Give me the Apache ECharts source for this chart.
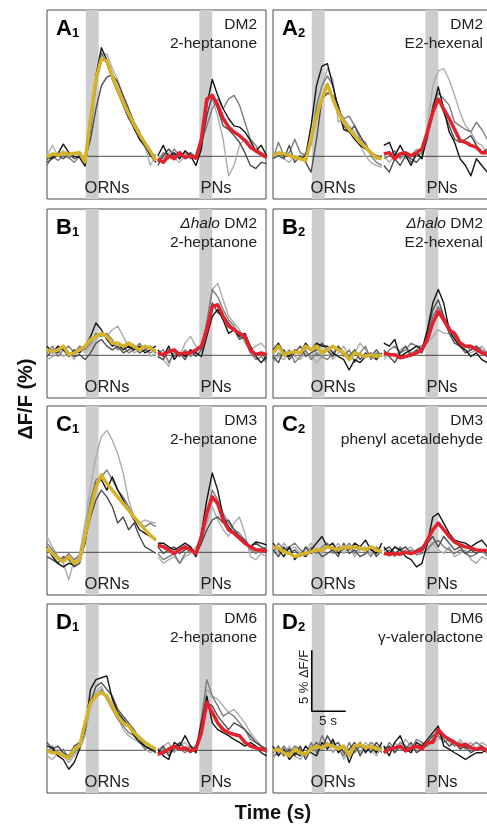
<!DOCTYPE html>
<html>
<head>
<meta charset="utf-8">
<script src="https://cdn.jsdelivr.net/npm/echarts@6/dist/echarts.min.js"></script>
<style>
  html, body { margin: 0; padding: 0; background: #fff; overflow: hidden; }
  /* right column panels run past the 487px frame, as in the original crop */
  #chart { width: 500px; height: 824px; }
</style>
</head>
<body>
<div id="chart"></div>
<script>
// sample times (s) for each 16 s recording window
const TIME = [0, 0.8, 1.6, 2.4, 3.2, 4, 4.8, 5.6, 6.4, 7.2, 8, 8.8, 9.6, 10.4, 11.2, 12, 12.8, 13.6, 14.4, 15.2, 16]
const PN_START = 16.3          // PN window starts after the ORN window
const ODOR_ON = [5.7, 22.4]    // odor pulses (s), 1.9 s long
const ODOR_LEN = 1.9
const SCALE_T = 5              // scale bar: 5 s
const SCALE_DF = 5             // scale bar: 5 % dF/F

// dF/F (%), mean traces and individual flies (black -> light gray)
const A1_ORN_MEAN = [-0.1,0.2,0.1,0.3,0.15,0.25,0.3,-0.45,3.1,6.3,8.0,7.8,6.6,5.5,4.4,3.5,2.6,1.8,1.1,0.4,-0.35]
const A1_ORN_TRACES = [
  [-0.2,-0.1,0.2,1.0,0.3,0.0,-0.1,-0.8,2.5,6.6,8.9,7.9,6.6,5.5,4.2,3.2,2.3,1.4,0.9,0.1,-0.5],
  [-0.5,-0.2,0.05,-0.2,0.2,-0.2,0.05,-0.2,1.4,3.9,5.8,6.5,6.7,6.1,5.0,3.9,2.8,2.0,0.9,0.05,-0.2],
  [-0.75,0.05,-0.35,0.05,-0.1,-0.5,0.05,-0.6,2.0,6.1,8.5,7.6,6.3,5.2,4.2,3.1,2.5,1.4,0.75,0.3,0.05],
  [0.05,0.9,0.05,0.45,-0.2,0.3,0.05,0.05,2.0,5.8,8.3,8.4,7.2,6.3,4.7,3.9,2.2,1.7,0.9,-0.75,0.05]
]
const A1_PN_MEAN = [-0.2,-0.5,0.05,-0.2,0.3,-0.1,0.05,-0.15,1.4,4.7,5.0,4.2,3.1,2.4,2.0,1.7,1.3,0.75,0.45,0.2,-0.1]
const A1_PN_TRACES = [
  [0.05,0.9,-0.1,0.3,-0.2,0.45,0.05,-0.75,0.6,4.2,6.3,5.0,3.9,3.1,2.5,2.4,2.0,1.3,0.45,0.9,0.05],
  [-0.75,0.05,0.6,0.05,0.3,-0.2,0.3,-0.1,0.9,3.3,5.0,3.9,2.5,2.2,1.7,1.15,0.3,-0.75,-1.0,-0.5,-0.6],
  [-0.5,0.3,-0.2,0.6,0.05,0.3,-0.2,0.05,1.15,2.5,3.9,4.7,3.9,4.7,5.0,4.2,2.8,1.4,0.9,0.05,-0.2],
  [0.05,-0.2,0.3,-0.1,-0.5,0.05,0.3,-0.2,0.9,3.6,4.7,3.3,1.4,-1.6,-0.75,0.9,1.4,1.15,0.3,0.05,0.2]
]
const A2_ORN_MEAN = [0.05,0.3,0.2,0.05,-0.1,-0.2,-0.35,1.4,3.3,4.7,5.9,4.7,3.6,2.8,2.2,1.7,1.15,0.75,0.3,-0.1,-0.2]
const A2_ORN_TRACES = [
  [0.05,0.3,0.05,0.05,-0.1,-0.2,0.05,2.5,5.8,7.4,7.6,5.8,3.9,2.2,2.0,1.4,0.9,0.6,0.3,0.05,-0.1],
  [-0.2,0.05,-0.2,0.9,-0.5,0.05,-0.5,-1.3,1.4,4.7,5.2,5.0,4.2,2.5,2.0,2.5,1.7,0.9,0.3,-0.2,0.05],
  [-0.2,1.15,0.05,0.3,1.4,0.3,0.05,1.15,4.2,5.8,6.6,5.8,3.9,3.1,3.3,2.5,1.4,1.15,0.05,-0.5,-0.75],
  [0.05,0.3,-0.2,-0.5,0.05,-0.2,0.3,0.9,3.9,5.8,7.2,6.3,2.8,3.1,2.5,2.0,0.9,0.05,-0.5,-0.75,-0.9]
]
const A2_PN_MEAN = [0.2,0.3,-0.2,0.2,0.3,0.05,0.3,0.6,2.0,3.6,4.7,3.9,3.1,2.2,1.3,1.15,0.9,0.75,0.3,0.3,0.2]
const A2_PN_TRACES = [
  [0.9,1.15,0.05,0.9,0.05,-0.75,0.3,-0.2,1.7,3.9,5.7,3.9,2.0,1.15,-0.2,-0.75,-1.6,-0.2,-0.75,-1.3,-0.75],
  [-0.75,-1.3,-0.2,-0.75,0.05,-0.2,-0.5,0.05,2.0,3.9,4.7,3.6,2.5,1.4,1.15,1.4,1.7,0.9,0.3,0.6,0.3],
  [-0.2,0.05,0.45,-0.2,0.3,-0.5,0.05,0.3,1.4,4.2,5.2,4.7,4.2,2.8,2.5,2.2,2.0,2.8,2.2,1.4,0.9],
  [0.05,-0.5,0.05,0.3,-0.2,0.05,0.6,0.3,2.5,5.8,7.0,7.2,6.3,5.0,3.6,2.5,2.0,1.15,0.9,0.3,0.05]
]
const B1_ORN_MEAN = [0.45,0.3,0.45,0.75,0.05,0.2,0.45,0.75,1.3,1.55,1.8,1.55,1.0,1.0,0.75,1.0,0.75,0.45,0.75,0.6,0.3]
const B1_ORN_TRACES = [
  [0.75,0.2,0.75,0.45,-0.1,0.45,0.2,0.75,1.55,2.65,2.1,1.3,0.75,1.0,0.45,0.75,0.45,0.75,0.2,0.45,0.75],
  [-0.1,0.45,0.2,0.75,0.2,-0.1,0.05,-0.35,0.2,1.0,1.3,0.75,0.45,0.75,0.2,0.45,0.75,0.2,0.45,0.75,0.2],
  [0.2,0.75,-0.1,0.45,0.75,0.2,0.75,0.45,1.0,1.8,1.55,1.8,1.3,0.45,0.75,0.2,0.45,1.0,0.45,0.2,0.45],
  [-0.35,-0.1,0.45,-0.1,0.2,-0.35,0.75,0.2,0.75,1.3,1.8,1.55,2.1,2.4,1.55,0.75,0.2,0.45,0.75,-0.1,0.2]
]
const B1_PN_MEAN = [0.2,0.05,0.3,0.45,0.05,0.2,0.2,0.45,0.75,2.1,4.0,4.15,3.2,2.4,2.1,1.8,1.55,0.45,0.05,0.2,0.05]
const B1_PN_TRACES = [
  [0.45,-0.1,0.75,-0.35,0.2,-0.1,0.45,0.2,-0.1,1.55,3.2,3.75,2.9,1.8,2.1,1.55,1.8,0.75,-0.1,-0.6,-0.1],
  [-0.1,-0.35,0.45,-0.1,0.2,-0.35,0.45,-0.1,0.45,2.1,4.3,3.5,3.2,2.65,2.1,1.3,1.55,0.45,-0.1,0.2,-0.35],
  [0.2,0.45,-0.6,0.2,-0.1,0.45,-0.1,0.2,0.75,2.65,5.4,4.8,3.75,2.9,2.4,1.55,1.3,0.2,-0.35,-0.1,-0.6],
  [-0.1,-0.35,-0.9,0.45,-0.1,1.0,1.55,0.75,0.45,2.9,5.4,5.9,4.55,3.2,2.65,2.1,1.0,0.45,0.75,1.0,0.45]
]
const B2_ORN_MEAN = [0.2,0.75,0.05,0.2,0.3,0.2,0.75,0.45,0.75,0.2,0.45,0.75,0.45,0.2,-0.35,0.2,0.05,-0.1,0.05,-0.1,0.05]
const B2_ORN_TRACES = [
  [0.45,1.0,0.2,-0.1,0.45,0.2,1.0,0.45,1.0,0.75,0.75,0.2,-0.1,-0.35,-1.2,-0.35,-0.6,-0.1,0.2,-0.35,0.2],
  [-0.1,-0.6,0.45,-0.35,0.2,0.75,-0.1,0.2,0.45,1.0,0.45,-0.1,0.75,0.2,-0.1,0.45,-0.35,0.2,-0.1,0.45,-0.1],
  [-0.35,0.2,-0.1,0.45,-0.6,-0.1,0.45,-0.35,0.2,-0.1,-0.35,0.2,0.75,-0.1,0.45,-0.6,0.2,0.75,-0.35,0.2,-0.1],
  [-0.6,-0.1,-0.35,0.2,-0.1,-0.35,0.2,-0.1,-0.6,-0.1,0.45,-0.35,0.2,0.75,-0.1,0.2,1.0,0.45,-0.1,-0.35,0.2]
]
const B2_PN_MEAN = [0.2,0.05,0.05,-0.2,-0.1,0.05,0.2,0.45,1.3,2.65,3.6,2.9,2.1,1.8,1.0,0.75,0.75,0.45,0.2,0.05,-0.1]
const B2_PN_TRACES = [
  [1.0,0.75,1.3,-0.1,0.2,0.45,0.75,0.45,2.1,4.3,5.4,4.3,2.1,1.3,0.75,0.45,-0.1,0.2,-0.35,-0.6,-0.1],
  [0.45,-0.1,-0.6,0.2,0.75,-0.1,0.45,0.2,1.8,3.75,4.55,3.2,1.8,1.0,0.75,0.2,0.45,0.75,0.2,-0.1,0.45],
  [-0.1,0.45,0.75,0.2,0.45,1.0,0.75,0.75,1.3,3.2,4.0,3.2,2.4,1.55,1.0,0.75,0.45,0.75,0.45,0.2,-0.1],
  [-0.35,0.2,-0.1,0.45,0.75,0.2,0.45,0.75,1.0,1.55,2.1,1.8,1.8,1.4,0.75,0.45,0.2,0.45,0.75,0.2,0.45]
]
const C1_ORN_MEAN = [0.35,-0.1,-0.5,-0.75,-0.35,-0.9,-0.6,1.3,3.45,5.35,6.35,5.65,5.1,4.55,4.0,3.45,2.9,2.4,1.85,1.4,1.0]
const C1_ORN_TRACES = [
  [0.45,-0.35,-0.9,-1.2,-0.9,-1.05,-0.6,0.75,3.75,5.65,5.95,5.1,6.2,5.1,4.3,3.45,2.65,1.85,1.55,1.3,1.0],
  [-0.35,-0.6,-0.9,-0.35,-0.6,-1.2,-0.9,1.0,2.9,4.3,5.1,4.55,3.75,2.4,2.9,1.85,2.4,1.3,0.45,0.2,-0.1],
  [0.75,0.2,-0.35,-0.6,-0.1,-0.6,-0.35,1.55,4.3,5.95,6.2,6.75,5.95,5.1,4.55,3.75,2.9,2.4,2.1,2.4,2.1],
  [1.3,0.45,-0.35,-0.9,-2.25,-0.6,-0.1,2.4,5.4,7.85,9.5,10.0,9.2,8.1,6.5,4.3,2.9,2.4,2.65,2.5,2.4]
]
const C1_PN_MEAN = [0.6,0.45,0.2,-0.1,0.2,0.45,0.2,-0.1,1.3,3.2,4.55,4.0,2.65,1.85,1.55,1.15,0.75,0.45,0.2,0.2,0.05]
const C1_PN_TRACES = [
  [0.75,0.75,0.45,0.2,0.45,0.75,0.45,-0.35,1.55,4.3,6.5,5.1,2.9,2.1,1.55,1.3,0.75,0.45,0.85,0.75,0.6],
  [0.45,-0.1,0.2,0.45,-0.1,0.2,0.45,-0.1,0.75,1.85,2.65,2.9,2.4,2.65,1.85,1.3,1.0,0.45,0.75,0.45,0.2],
  [-0.1,-0.6,-0.35,-0.1,-0.9,-0.1,0.2,-0.35,0.75,3.2,5.1,4.3,3.2,2.4,1.85,1.55,1.0,0.2,-0.1,0.2,0.45],
  [-0.35,-0.9,-0.6,-0.35,-0.9,-0.35,-0.1,0.45,1.0,2.4,3.75,2.65,1.85,1.3,2.4,2.9,1.55,-0.35,-0.6,-0.1,-0.35]
]
const C2_ORN_MEAN = [0.45,0.35,0.05,-0.1,-0.35,-0.2,-0.1,0.05,0.2,0.2,0.45,0.35,0.2,0.45,0.35,0.45,0.35,0.2,0.45,0.2,0.05]
const C2_ORN_TRACES = [
  [0.75,0.2,-0.35,0.45,-0.6,-0.1,-0.35,0.2,0.75,1.3,0.45,0.75,-0.1,0.45,0.2,0.75,0.45,1.0,0.2,-0.1,0.75],
  [0.2,-0.35,0.45,-0.1,0.2,-0.35,0.45,-0.1,0.2,-0.35,-0.1,0.2,-0.35,0.75,-0.1,0.2,-0.35,-0.1,0.45,-0.35,0.2],
  [-0.1,0.75,0.2,0.45,0.75,0.2,-0.1,0.45,-0.1,0.45,0.75,-0.1,0.45,0.2,0.75,-0.1,0.45,0.2,-0.35,0.45,-0.1],
  [0.45,-0.1,0.75,0.2,0.45,-0.1,0.2,0.75,0.2,-0.1,0.45,0.2,0.75,-0.1,0.45,-0.35,0.2,0.45,-0.1,0.2,0.45]
]
const C2_PN_MEAN = [-0.1,-0.15,-0.1,-0.15,0.0,-0.1,0.05,0.2,1.0,1.85,2.4,1.85,1.3,0.85,0.6,0.45,0.35,0.2,0.15,0.15,0.05]
const C2_PN_TRACES = [
  [0.45,-0.1,0.45,0.2,-0.35,-0.6,-1.2,-0.9,0.75,2.9,3.2,2.4,1.55,1.0,0.85,0.75,0.45,0.75,1.0,0.45,0.2],
  [0.2,0.45,-0.1,0.2,0.45,-0.1,0.2,0.45,0.75,1.3,0.45,1.3,0.75,0.2,0.45,-0.1,0.2,-0.1,0.2,-0.1,0.05],
  [-0.2,0.2,-0.35,0.45,-0.1,0.2,-0.2,-0.1,0.2,0.75,1.0,0.45,0.2,-0.1,0.2,-0.1,-0.35,-0.1,0.2,-0.35,-0.1],
  [0.2,-0.35,0.45,-0.1,0.2,0.45,-0.1,0.2,0.45,0.75,0.2,-0.1,0.45,-0.35,-0.1,0.2,-0.6,-0.9,-0.35,-0.6,-0.35]
]
const D1_ORN_MEAN = [-0.05,-0.2,-0.2,-0.45,-0.6,0.1,0.35,2.25,3.9,4.45,4.75,4.45,3.65,2.8,2.25,2.0,1.45,1.05,0.65,0.35,0.1]
const D1_ORN_TRACES = [
  [0.35,0.2,-0.45,-0.75,-1.55,-1.0,0.1,1.7,5.0,5.8,5.95,6.1,4.2,3.1,2.55,2.0,1.2,0.65,0.35,0.1,-0.05],
  [0.65,0.1,0.35,-0.2,-0.45,0.35,0.65,2.0,3.9,5.25,5.55,5.0,4.45,3.35,2.8,2.25,1.7,0.9,0.35,0.1,-0.2],
  [-0.2,0.35,-0.45,0.1,-0.75,-0.2,0.35,1.7,4.2,4.45,5.0,4.2,3.35,2.55,2.0,1.45,1.2,0.9,0.1,0.35,-0.2],
  [-0.45,-0.75,-0.2,-0.45,-1.0,-0.45,0.1,1.2,3.65,4.75,5.25,4.2,3.65,2.8,1.7,1.2,0.9,0.65,0.1,-0.2,0.2]
]
const D1_PN_MEAN = [-0.3,-0.2,0.1,0.35,0.1,0.2,-0.05,0.1,1.45,3.9,3.1,2.25,1.7,1.45,1.3,1.2,0.65,0.35,0.2,0.1,-0.05]
const D1_PN_TRACES = [
  [0.1,-0.45,-0.75,0.65,0.35,1.2,0.35,-0.2,2.25,4.45,2.25,1.7,1.45,1.2,0.9,0.65,0.35,0.65,0.35,-0.2,-0.45],
  [-0.2,0.35,-0.45,0.1,0.65,0.1,-0.2,0.35,1.7,3.9,3.65,2.8,2.25,1.7,2.25,2.0,1.7,1.2,0.65,0.35,0.1],
  [-0.45,0.1,-0.2,0.35,0.1,-0.2,0.35,0.1,2.55,5.8,4.45,3.65,2.8,3.1,2.8,2.25,1.7,0.9,0.65,0.35,-0.2],
  [0.1,0.35,0.65,-0.2,0.35,0.65,0.1,0.35,2.0,5.0,4.45,4.2,3.65,3.1,3.35,2.8,2.25,1.45,0.9,0.35,0.1]
]
const D2_ORN_MEAN = [-0.05,0.1,-0.2,-0.45,0.1,-0.2,-0.3,0.1,0.35,0.2,0.5,0.35,0.1,0.35,-0.45,0.35,0.5,0.2,0.35,0.1,0.1]
const D2_ORN_TRACES = [
  [0.35,-0.45,0.1,-0.75,-0.2,-0.45,0.35,-0.2,-0.45,0.65,0.1,0.9,-0.2,0.35,-1.0,0.1,0.65,-0.2,0.35,-0.2,0.65],
  [-0.2,0.35,-0.45,0.1,-0.45,0.35,-0.75,0.1,0.65,0.1,1.2,0.35,0.65,-0.2,0.1,0.65,-0.45,0.35,-0.2,0.65,0.1],
  [-0.45,-0.2,0.35,-0.2,0.35,0.1,-0.45,0.65,-0.2,1.2,0.35,0.65,0.1,-0.45,0.65,-0.2,0.35,0.1,0.65,0.35,-0.2],
  [-0.75,0.1,-0.45,0.35,-0.45,-0.75,-0.2,0.35,-0.2,0.35,0.65,-0.2,0.35,-0.75,0.1,0.35,-0.2,0.65,0.1,-0.45,0.35]
]
const D2_PN_MEAN = [-0.2,0.1,0.2,0.35,-0.05,0.2,0.35,0.1,0.65,0.65,1.7,1.2,0.9,0.65,0.35,0.5,0.2,0.1,0.2,-0.05,-0.05]
const D2_PN_TRACES = [
  [0.35,-0.45,0.65,1.2,0.1,-0.2,0.65,0.35,0.9,1.45,2.0,0.35,0.1,-0.2,-0.45,-0.75,-0.45,-0.2,-0.2,0.1,-0.2],
  [0.1,0.35,-0.2,0.35,0.1,0.65,-0.2,0.1,0.65,1.2,1.45,0.9,0.35,0.65,0.1,0.35,-0.2,0.1,0.35,-0.2,0.1],
  [-0.2,0.65,0.1,0.65,0.35,0.1,0.9,0.65,0.35,0.9,1.2,0.65,0.9,0.35,0.65,0.1,0.35,0.65,0.35,0.1,0.35],
  [0.35,0.1,0.65,0.1,0.9,0.35,0.1,0.65,0.35,0.65,0.9,1.2,0.65,0.35,0.9,0.35,0.65,0.1,0.65,0.35,0.65]
]

const PANELS = [
  { letter: 'A', sub: '1', glom: 'DM2', odor: '2-heptanone', orn: [A1_ORN_MEAN, A1_ORN_TRACES], pn: [A1_PN_MEAN, A1_PN_TRACES] },
  { letter: 'A', sub: '2', glom: 'DM2', odor: 'E2-hexenal', orn: [A2_ORN_MEAN, A2_ORN_TRACES], pn: [A2_PN_MEAN, A2_PN_TRACES] },
  { letter: 'B', sub: '1', glom: '{i|Δhalo} DM2', odor: '2-heptanone', orn: [B1_ORN_MEAN, B1_ORN_TRACES], pn: [B1_PN_MEAN, B1_PN_TRACES] },
  { letter: 'B', sub: '2', glom: '{i|Δhalo} DM2', odor: 'E2-hexenal', orn: [B2_ORN_MEAN, B2_ORN_TRACES], pn: [B2_PN_MEAN, B2_PN_TRACES] },
  { letter: 'C', sub: '1', glom: 'DM3', odor: '2-heptanone', orn: [C1_ORN_MEAN, C1_ORN_TRACES], pn: [C1_PN_MEAN, C1_PN_TRACES] },
  { letter: 'C', sub: '2', glom: 'DM3', odor: 'phenyl acetaldehyde', orn: [C2_ORN_MEAN, C2_ORN_TRACES], pn: [C2_PN_MEAN, C2_PN_TRACES] },
  { letter: 'D', sub: '1', glom: 'DM6', odor: '2-heptanone', orn: [D1_ORN_MEAN, D1_ORN_TRACES], pn: [D1_PN_MEAN, D1_PN_TRACES] },
  { letter: 'D', sub: '2', glom: 'DM6', odor: 'γ-valerolactone', orn: [D2_ORN_MEAN, D2_ORN_TRACES], pn: [D2_PN_MEAN, D2_PN_TRACES] }
]

const FONT = "'Liberation Sans', Arial, Helvetica, sans-serif"
const COL_LEFT = [47, 273]
const ROW_TOP = [10, 209, 406, 604]
const PANEL_W = 219
const PANEL_H = 189
const X_MAX = 32.2
const Y_MIN = -3.5
const Y_MAX = 12
const TRACE_COLORS = ['#141414', '#4c4c4c', '#7c7c7c', '#acacac']
const ORN_COLOR = '#d4b32a'
const PN_COLOR = '#e3212c'

const chart = echarts.init(document.getElementById('chart'))

const grids = []
const xAxes = []
const yAxes = []
const series = []
const graphics = []

function traceSeries(gi, values, offset, color, width, z) {
  return {
    type: 'line',
    xAxisIndex: gi,
    yAxisIndex: gi,
    data: values.map((v, i) => [TIME[i] + offset, v]),
    symbol: 'none',
    silent: true,
    lineStyle: { color, width, join: 'round' },
    z
  }
}

PANELS.forEach((p, gi) => {
  const left = COL_LEFT[gi % 2]
  const top = ROW_TOP[Math.floor(gi / 2)]
  grids.push({ left, top, width: PANEL_W, height: PANEL_H, show: true, borderColor: '#4a4a4a', borderWidth: 1, backgroundColor: 'transparent' })
  xAxes.push({ gridIndex: gi, type: 'value', min: 0, max: X_MAX, show: false })
  yAxes.push({ gridIndex: gi, type: 'value', min: Y_MIN, max: Y_MAX, show: false })

  // zero line for both windows, with the odor bars behind it
  const tEnd = TIME[TIME.length - 1]
  series.push({
    type: 'line',
    xAxisIndex: gi,
    yAxisIndex: gi,
    data: [[TIME[0], 0], [tEnd, 0], ['-', '-'], [PN_START + TIME[0], 0], [PN_START + tEnd, 0]],
    symbol: 'none',
    silent: true,
    connectNulls: false,
    lineStyle: { color: '#222', width: 0.8 },
    z: 1,
    markArea: {
      silent: true,
      itemStyle: { color: '#cdcdcd' },
      data: ODOR_ON.map((t) => [{ xAxis: t }, { xAxis: t + ODOR_LEN }])
    }
  })

  ;[[p.orn, 0, ORN_COLOR], [p.pn, PN_START, PN_COLOR]].forEach(([[mean, traces], offset, color]) => {
    for (let k = traces.length - 1; k >= 0; k--) {
      series.push(traceSeries(gi, traces[k], offset, TRACE_COLORS[k], 1.4, 3 + (traces.length - k)))
    }
    series.push(traceSeries(gi, mean, offset, color, 3.5, 10))
  })

  graphics.push(
    {
      type: 'text', x: left + 9, y: top + 6, z: 20,
      style: {
        text: '{b|' + p.letter + '}{s|' + p.sub + '}',
        fill: '#000',
        rich: {
          b: { fontSize: 22, fontWeight: 'bold', fontFamily: FONT, fill: '#000', verticalAlign: 'bottom', lineHeight: 24 },
          s: { fontSize: 13, fontWeight: 'bold', fontFamily: FONT, fill: '#000', verticalAlign: 'bottom', lineHeight: 20 }
        }
      }
    },
    {
      type: 'text', x: left + 210, y: top + 15, z: 20,
      style: {
        text: p.glom, align: 'right', verticalAlign: 'middle', fontSize: 15.5, fontFamily: FONT, fill: '#222',
        rich: { i: { fontSize: 15.5, fontStyle: 'italic', fontFamily: FONT, fill: '#222' } }
      }
    },
    {
      type: 'text', x: left + 210, y: top + 34, z: 20,
      style: { text: p.odor, align: 'right', verticalAlign: 'middle', fontSize: 15.5, fontFamily: FONT, fill: '#222' }
    },
    {
      type: 'text', x: left + 60, y: top + 178, z: 20,
      style: { text: 'ORNs', align: 'center', verticalAlign: 'middle', fontSize: 16.5, fontFamily: FONT, fill: '#222' }
    },
    {
      type: 'text', x: left + 169, y: top + 178, z: 20,
      style: { text: 'PNs', align: 'center', verticalAlign: 'middle', fontSize: 16.5, fontFamily: FONT, fill: '#222' }
    }
  )
})

// scale bar inside D2
const SB_T = 5.7
const SB_Y = 3.2
series.push({
  type: 'line',
  xAxisIndex: 7,
  yAxisIndex: 7,
  data: [[SB_T, SB_Y + SCALE_DF], [SB_T, SB_Y], [SB_T + SCALE_T, SB_Y]],
  symbol: 'none',
  silent: true,
  lineStyle: { color: '#000', width: 1.6 },
  z: 15
})

graphics.push(
  {
    type: 'text', x: 304, y: 677, rotation: Math.PI / 2, z: 20,
    style: { text: '5 % ΔF/F', align: 'center', verticalAlign: 'middle', fontSize: 13, fontFamily: FONT, fill: '#222' }
  },
  {
    type: 'text', x: 328, y: 721, z: 20,
    style: { text: '5 s', align: 'center', verticalAlign: 'middle', fontSize: 13.5, fontFamily: FONT, fill: '#222' }
  },
  {
    type: 'text', x: 26, y: 399, rotation: Math.PI / 2, z: 20,
    style: { text: 'ΔF/F (%)', align: 'center', verticalAlign: 'middle', fontSize: 20, fontWeight: 'bold', fontFamily: FONT, fill: '#111' }
  },
  {
    type: 'text', x: 273, y: 813, z: 20,
    style: { text: 'Time (s)', align: 'center', verticalAlign: 'middle', fontSize: 20, fontWeight: 'bold', fontFamily: FONT, fill: '#111' }
  }
)

chart.setOption({
  animation: false,
  backgroundColor: '#fff',
  grid: grids,
  xAxis: xAxes,
  yAxis: yAxes,
  series,
  graphic: graphics
})
</script>
</body>
</html>
